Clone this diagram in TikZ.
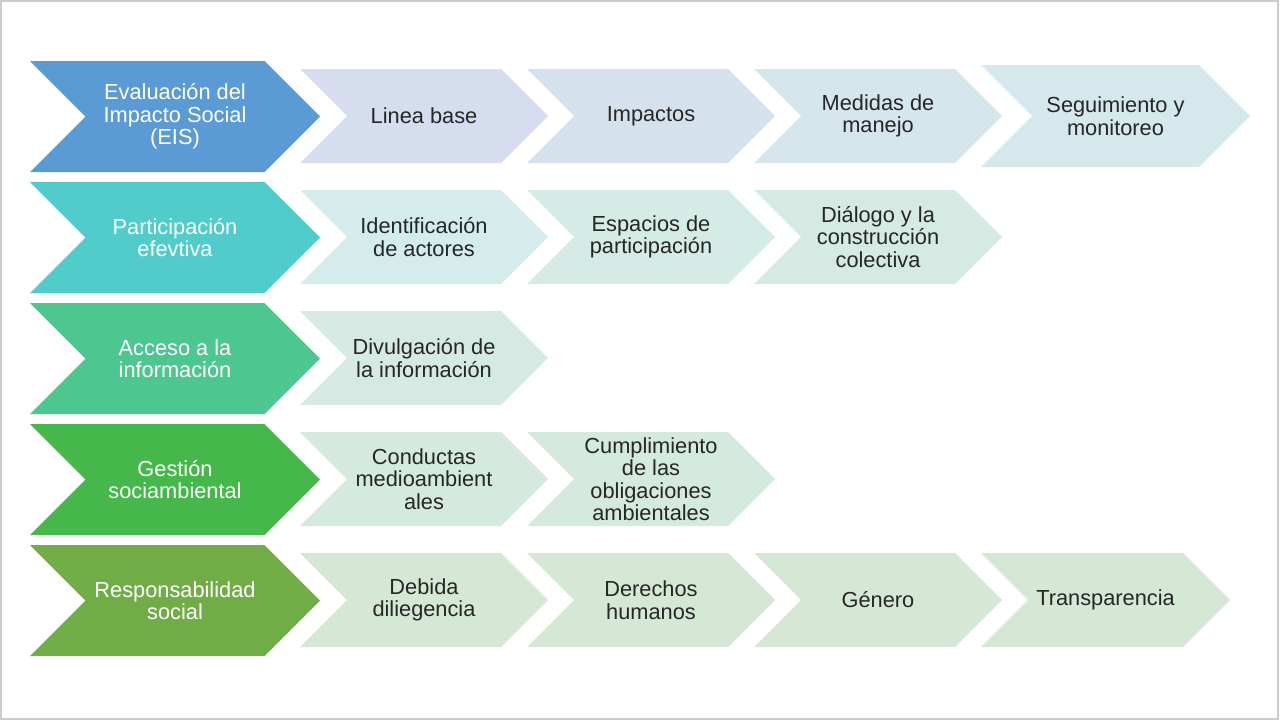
\documentclass[tikz,border=0pt]{standalone}
\usepackage{fontspec}
\setmainfont{Liberation Sans}
\usepackage{tikz}
\usepackage{xcolor}

\definecolor{eisblue}{HTML}{5B9BD5}
\definecolor{partteal}{HTML}{52CBCB}
\definecolor{accmint}{HTML}{4DC790}
\definecolor{gesgreen}{HTML}{45B74B}
\definecolor{resgreen}{HTML}{70AD47}
\definecolor{subA}{HTML}{D6DDEF}
\definecolor{subB}{HTML}{D5E2EE}
\definecolor{subC}{HTML}{D5E6ED}
\definecolor{subD}{HTML}{D5E8EC}
\definecolor{subE}{HTML}{D5ECEC}
\definecolor{subF}{HTML}{D4EBE6}
\definecolor{subG}{HTML}{D5EAE2}
\definecolor{subH}{HTML}{D5EADE}
\definecolor{subI}{HTML}{D5E8D5}

\tikzset{
  txt/.style={font=\fontsize{12.4}{12.8}\selectfont, align=center, inner sep=0pt},
  maintxt/.style={txt, text=white},
  subtxt/.style={txt, text=black!85},
}

% chevron filled first, then its named text node: name, x, y, width, height, colour, text style, text
\newcommand{\chevnode}[8]{%
  \fill[#6] (#2,#3) -- ++({#4-#5/2},0) -- ++({#5/2},{#5/2}) -- ++({-#5/2},{#5/2})
    -- ++({-#4+#5/2},0) -- ++({#5/2},{-#5/2}) -- cycle;
  \node[#7] (#1) at ({#2+#4/2},{#3+#5/2}) {#8};
}

\begin{document}
\begin{tikzpicture}[x=0.02cm, y=-0.02cm]
            \useasboundingbox (0,0) rectangle (1280,720);
            \draw[black!20, line width=0.6pt] (1,1) rectangle (1278,719);

            % Main chevrons
            \chevnode{eis}{30}{61}{290}{111}{eisblue}{maintxt}{Evaluación del\\Impacto Social\\(EIS)}
            \chevnode{part}{30}{182}{290}{111}{partteal}{maintxt}{Participación\\efevtiva}
            \chevnode{acc}{30}{303}{290}{111}{accmint}{maintxt}{Acceso a la\\información}
            \chevnode{ges}{30}{424}{290}{111}{gesgreen}{maintxt}{Gestión\\sociambiental}
            \chevnode{res}{30}{545}{290}{111}{resgreen}{maintxt}{Responsabilidad\\social}

            % Row 1
            \chevnode{lb}{300}{69}{248}{94}{subA}{subtxt}{Linea base}
            \chevnode{imp}{527}{69}{248}{94}{subB}{subtxt}{Impactos}
            \chevnode{med}{754}{69}{248}{94}{subC}{subtxt}{Medidas de\\manejo}
            \chevnode{seg}{981}{65}{269}{102}{subD}{subtxt}{Seguimiento y\\monitoreo}

            % Row 2
            \chevnode{ide}{300}{190}{248}{94}{subE}{subtxt}{Identificación\\de actores}
            \chevnode{esp}{527}{190}{248}{94}{subF}{subtxt}{Espacios de\\participación}
            \chevnode{dia}{754}{190}{248}{94}{subG}{subtxt}{Diálogo y la\\construcción\\colectiva}

            % Row 3
            \chevnode{div}{300}{311}{248}{94}{subG}{subtxt}{Divulgación de\\la información}

            % Row 4
            \chevnode{con}{300}{432}{248}{94}{subH}{subtxt}{Conductas\\medioambient\\ales}
            \chevnode{cum}{527}{432}{248}{94}{subH}{subtxt}{Cumplimiento\\de las\\obligaciones\\ambientales}

            % Row 5
            \chevnode{deb}{300}{553}{248}{94}{subI}{subtxt}{Debida\\diliegencia}
            \chevnode{der}{527}{553}{248}{94}{subI}{subtxt}{Derechos\\humanos}
            \chevnode{gen}{754}{553}{248}{94}{subI}{subtxt}{Género}
            \chevnode{tra}{981}{553}{249}{94}{subI}{subtxt}{Transparencia}
        \end{tikzpicture}
\end{document}
